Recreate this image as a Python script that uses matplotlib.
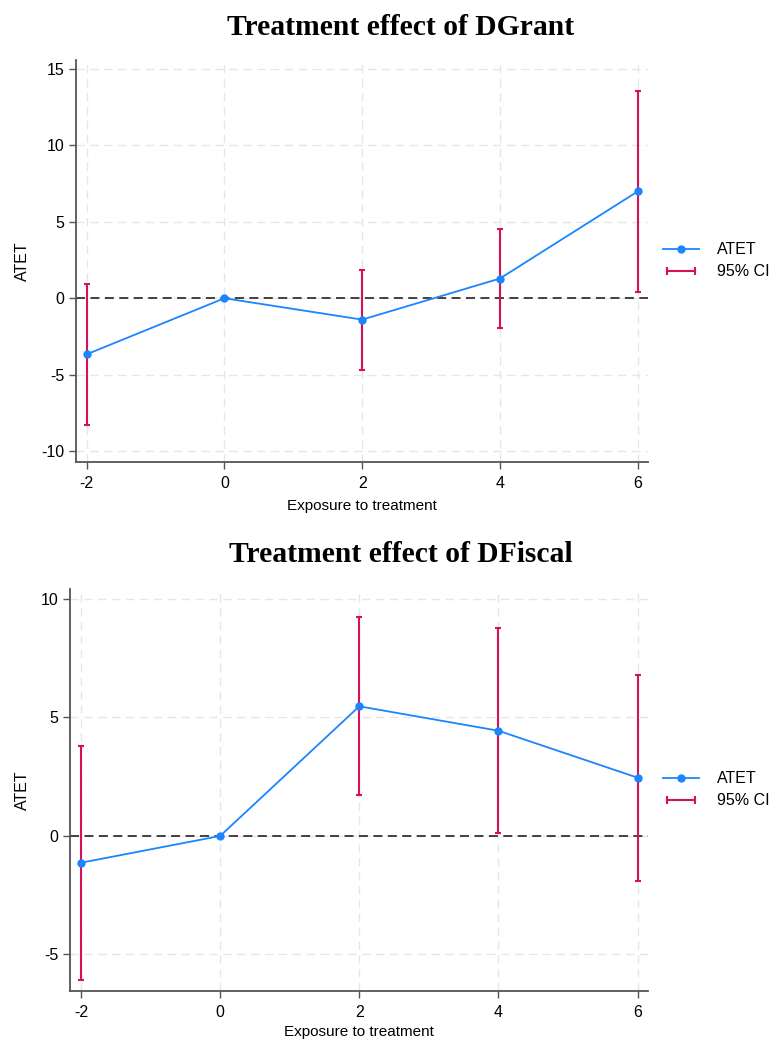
import numpy as np
import matplotlib.pyplot as plt
from matplotlib.lines import Line2D
from matplotlib.legend_handler import HandlerLine2D


# ---------------- DATA ---------------- #

EXPOSURE = [-2, 0, 2, 4, 6]

GRANT_ATET = [-3.67, 0.0, -1.40, 1.29, 6.99]
GRANT_LO = [-8.31, 0.0, -4.70, -1.93, 0.41]
GRANT_HI = [0.92, 0.0, 1.86, 4.52, 13.57]

FISCAL_ATET = [-1.13, 0.0, 5.47, 4.44, 2.46]
FISCAL_LO = [-6.08, 0.0, 1.73, 0.11, -1.89]
FISCAL_HI = [3.81, 0.0, 9.23, 8.79, 6.79]

GRANT_YTICKS = [-10, -5, 0, 5, 10, 15]
FISCAL_YTICKS = [-5, 0, 5, 10]

# ---------------- STYLE ---------------- #

BLUE = "#1a85ff"
RED = "#d41159"
AXIS_GRAY = "#555555"

plt.rcParams["font.family"] = ["Liberation Sans", "DejaVu Sans"]


def draw_panel(ax, atet, lo, hi, yticks, ylim, xlabelpad):
    x = np.array(EXPOSURE)
    ci_x = [xi for xi, l, h in zip(EXPOSURE, lo, hi) if h != l]
    ci_lo = [l for l, h in zip(lo, hi) if h != l]
    ci_hi = [h for l, h in zip(lo, hi) if h != l]

    ax.axhline(0, color="#333333", linestyle=(0, (5, 3)), linewidth=1.3, zorder=1)
    ax.vlines(ci_x, ci_lo, ci_hi, color=RED, linewidth=1.5, zorder=3)
    ax.plot(ci_x, ci_lo, linestyle="none", marker="_", markersize=5,
            markeredgewidth=1.5, color=RED, zorder=3)
    ax.plot(ci_x, ci_hi, linestyle="none", marker="_", markersize=5,
            markeredgewidth=1.5, color=RED, zorder=3)
    ax.plot(x, atet, color=BLUE, linewidth=1.3, marker="o", markersize=5, zorder=4)

    ax.set_xlim(-2.155, 6.155)
    ax.set_ylim(*ylim)
    ax.set_xticks(EXPOSURE)
    ax.set_xticklabels([str(v) for v in EXPOSURE])
    ax.set_yticks(yticks)
    ax.set_yticklabels([str(v) for v in yticks])

    ax.grid(True, color="#e6e6e6", linestyle=(0, (6, 4)), linewidth=1.0)
    ax.set_axisbelow(True)
    for side in ["top", "right"]:
        ax.spines[side].set_visible(False)
    for side in ["left", "bottom"]:
        ax.spines[side].set_color(AXIS_GRAY)
        ax.spines[side].set_linewidth(1.3)
    ax.tick_params(colors=AXIS_GRAY, labelcolor="black", labelsize=11.5,
                   length=5, width=1.0)
    ax.tick_params(axis="x", pad=5)

    ax.set_xlabel("Exposure to treatment", fontsize=11, labelpad=xlabelpad)
    ax.set_ylabel("ATET", fontsize=11.5, labelpad=8)

    h_atet = Line2D([], [], color=BLUE, linewidth=1.3, marker="o", markersize=5)
    h_ci = Line2D([0, 1], [0, 0], color=RED, linewidth=1.5, marker="|",
                  markersize=6, markeredgewidth=1.5)
    ax.legend([h_atet, h_ci], ["ATET", "95% CI"],
              handler_map={h_ci: HandlerLine2D(numpoints=2)},
              loc="center left", bbox_to_anchor=(1.0, 0.5), frameon=False,
              fontsize=11.5, handlelength=2.3, handletextpad=1.1,
              labelspacing=0.45)


fig = plt.figure(figsize=(7.73, 10.41), dpi=100)

ax1 = fig.add_axes([0.0983, 0.5565, 0.7404, 0.3859])
draw_panel(ax1, GRANT_ATET, GRANT_LO, GRANT_HI, GRANT_YTICKS, (-10.7, 15.6), 6)
fig.text(0.518, 0.9664, "Treatment effect of DGrant", ha="center", va="baseline",
         fontsize=21.3, fontweight="bold", family=["Liberation Serif", "DejaVu Serif"])

ax2 = fig.add_axes([0.0909, 0.0483, 0.7478, 0.3859])
draw_panel(ax2, FISCAL_ATET, FISCAL_LO, FISCAL_HI, FISCAL_YTICKS, (-6.53, 10.42), 4)
fig.text(0.518, 0.4598, "Treatment effect of DFiscal", ha="center", va="baseline",
         fontsize=21.3, fontweight="bold", family=["Liberation Serif", "DejaVu Serif"])

plt.savefig("out.png", dpi=100)
plt.close()
